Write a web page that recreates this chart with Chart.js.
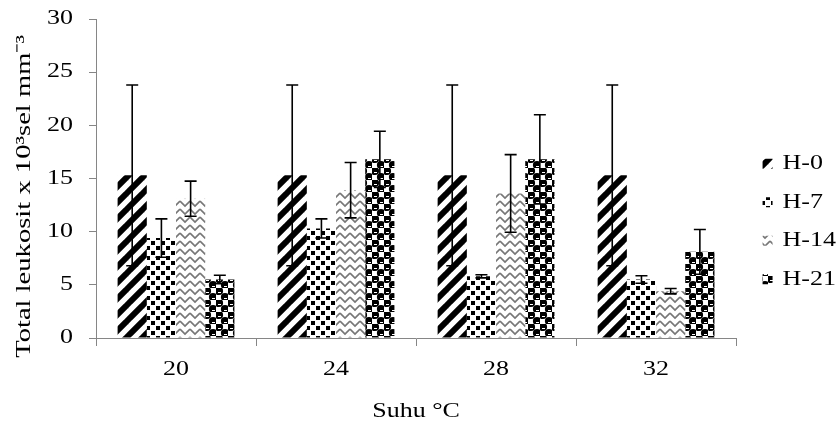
<!DOCTYPE html>
<html>
<head>
<meta charset="utf-8">
<script src="https://cdn.jsdelivr.net/npm/chart.js@4/dist/chart.umd.min.js"></script>
<style>
html,body{margin:0;padding:0;background:#fff;}
#c{display:block;}
</style>
</head>
<body>
<canvas id="c" width="838" height="427"></canvas>
<script>
// ---- data ----
const categories = ['20', '24', '28', '32'];
const seriesNames = ['H-0', 'H-7', 'H-14', 'H-21'];
const h0 = [15.3, 15.3, 15.3, 15.3];
const h0Err = [8.5, 8.5, 8.5, 8.5];
const h7 = [9.4, 10.3, 5.8, 5.5];
const h7Err = [1.8, 0.9, 0.15, 0.35];
const h14 = [13.1, 13.9, 13.6, 4.4];
const h14Err = [1.65, 2.6, 3.65, 0.25];
const h21 = [5.5, 16.8, 16.8, 8.1];
const h21Err = [0.4, 2.65, 4.2, 2.1];
const yTicks = [0, 5, 10, 15, 20, 25, 30];

// ---- patterns ----
function makeTile(w, h, draw) {
  const c = document.createElement('canvas');
  c.width = w; c.height = h;
  const g = c.getContext('2d');
  g.fillStyle = '#fff'; g.fillRect(0, 0, w, h);
  draw(g, w, h);
  return g.createPattern(c, 'repeat');
}
const patStripes = makeTile(16, 16, (g, w, h) => {
  g.strokeStyle = '#000'; g.lineWidth = 6;
  for (const o of [-16, 0, 16]) {
    g.beginPath(); g.moveTo(o - 2, h + 2); g.lineTo(o + w + 2, -2); g.stroke();
  }
});
const patDots = makeTile(10, 10, (g) => {
  g.fillStyle = '#000';
  g.fillRect(1, 1, 4, 4);
  g.fillRect(6, 6, 4, 4);
});
const patZig = makeTile(10, 8, (g) => {
  g.strokeStyle = '#777'; g.lineWidth = 1.7;
  for (const oy of [-8, 0, 8]) {
    g.beginPath(); g.moveTo(0, oy + 1); g.lineTo(5, oy + 6); g.lineTo(10, oy + 1); g.stroke();
  }
});
const patBalls = makeTile(12, 12, (g) => {
  g.fillStyle = '#000';
  for (const [cx, cy] of [[3, 3], [9, 9]]) {
    g.beginPath(); g.arc(cx, cy, 4.1, 0, Math.PI * 2); g.fill();
  }
  g.fillStyle = '#fff';
  g.fillRect(2, 4, 3, 1);
  g.fillRect(8, 10, 3, 1);
});
const patterns = [patStripes, patDots, patZig, patBalls];

// ---- text stretch (reference glyphs are horizontally wide) ----
const SX = 1.3;
const canvas = document.getElementById('c');
const ctx = canvas.getContext('2d');
const origFill = ctx.fillText.bind(ctx);
const origMeasure = ctx.measureText.bind(ctx);
ctx.fillText = function (t, x, y, mw) {
  this.save();
  this.translate(x, y);
  this.scale(SX, 1);
  if (mw === undefined || mw === null) origFill(t, 0, 0);
  else origFill(t, 0, 0, mw / SX);
  this.restore();
};
ctx.measureText = function (t) {
  const m = origMeasure(t);
  return {
    width: m.width * SX,
    actualBoundingBoxAscent: m.actualBoundingBoxAscent,
    actualBoundingBoxDescent: m.actualBoundingBoxDescent,
    actualBoundingBoxLeft: m.actualBoundingBoxLeft * SX,
    actualBoundingBoxRight: m.actualBoundingBoxRight * SX
  };
};

const errs = [h0Err, h7Err, h14Err, h21Err];
const errorBars = {
  id: 'errorBars',
  afterDatasetsDraw(chart) {
    const c = chart.ctx, ys = chart.scales.y;
    c.save();
    c.strokeStyle = '#000'; c.lineWidth = 1.6;
    chart.data.datasets.forEach((ds, i) => {
      const meta = chart.getDatasetMeta(i);
      meta.data.forEach((bar, j) => {
        const v = ds.data[j], e = errs[i][j];
        const t = ys.getPixelForValue(v + e), b = ys.getPixelForValue(v - e), x = bar.x;
        c.beginPath();
        c.moveTo(x, t); c.lineTo(x, b);
        c.moveTo(x - 6, t); c.lineTo(x + 6, t);
        c.moveTo(x - 6, b); c.lineTo(x + 6, b);
        c.stroke();
      });
    });
    c.restore();
  }
};
const legendShift = {
  id: 'legendShift',
  afterLayout(chart) {
    const L = chart.legend;
    if (L) { L.left += 8; L.right += 8; L.top += 8; L.bottom += 8; }
  }
};

Chart.defaults.font.family = '"Liberation Serif", "Times New Roman", serif';
Chart.defaults.font.size = 20;
Chart.defaults.color = '#000';

const values = [h0, h7, h14, h21];
new Chart(ctx, {
  type: 'bar',
  data: {
    labels: categories,
    datasets: seriesNames.map((n, i) => ({
      label: n,
      data: values[i],
      backgroundColor: patterns[i],
      borderWidth: 0,
      categoryPercentage: 0.73,
      barPercentage: 1.0
    }))
  },
  options: {
    responsive: false,
    animation: false,
    events: [],
    layout: { padding: { left: 0, top: 0, right: 0, bottom: 0 } },
    plugins: {
      tooltip: { enabled: false },
      legend: {
        position: 'right',
        labels: {
          boxWidth: 10, boxHeight: 10, padding: 18.5,
          font: { size: 20 }, color: '#000'
        }
      }
    },
    scales: {
      x: {
        grid: { drawOnChartArea: false, drawTicks: true, tickLength: 8, color: '#868686', offset: true },
        border: { color: '#868686', width: 1 },
        ticks: { padding: 12, font: { size: 20 } },
        title: { display: true, text: 'Suhu °C', font: { size: 20 }, padding: { top: 18, bottom: 3 } },
        afterFit(s) { s.height = 89; }
      },
      y: {
        min: 0, max: 30,
        afterBuildTicks(axis) { axis.ticks = yTicks.map(v => ({ value: v })); },
        grid: { drawOnChartArea: false, drawTicks: true, tickLength: 7, color: '#868686' },
        border: { color: '#868686', width: 1 },
        ticks: { padding: 16, font: { size: 20 } },
        title: { display: true, text: 'Total leukosit x 10³sel mm⁻³     ', font: { size: 22 }, padding: { top: 11, bottom: 0 } },
        afterFit(s) { s.width = 96; s.paddingTop = 19; s.paddingBottom = 0; }
      }
    }
  },
  plugins: [errorBars, legendShift]
});
</script>
</body>
</html>
